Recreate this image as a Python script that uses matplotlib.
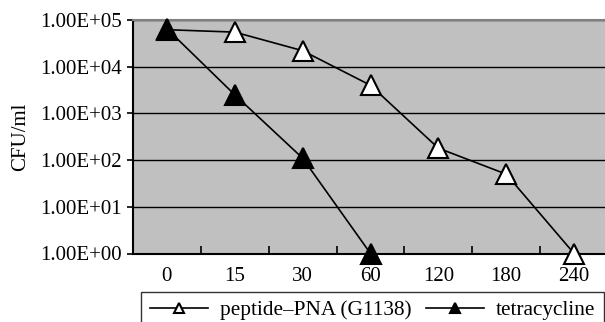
import matplotlib
matplotlib.use("Agg")
import matplotlib.pyplot as plt
import numpy as np

plt.rcParams['font.family'] = ['Liberation Serif', 'DejaVu Serif']
plt.rcParams['mathtext.fontset'] = 'stix'

categories = ["0", "15", "30", "60", "120", "180", "240"]
peptide = [6.2e4, 5.5e4, 2.2e4, 4.0e3, 1.8e2, 5.0e1, 1.0e0]
tetra_cats = ["0", "15", "30", "60"]
tetracycline = [6.5e4, 2.5e3, 1.1e2, 1.0e0]
ytick_vals = [1e0, 1e1, 1e2, 1e3, 1e4, 1e5]
ytick_labels = ["1.00E+00", "1.00E+01", "1.00E+02", "1.00E+03", "1.00E+04", "1.00E+05"]

FS = 15

fig = plt.figure(figsize=(6.05, 3.22), dpi=100)
ax = fig.add_axes([133/605, 1-253.5/322, 475/605, (253.5-20)/322])
ax.set_facecolor('#c0c0c0')

x = np.arange(len(categories))
xt = np.arange(len(tetra_cats))
ax.plot(x, peptide, color='black', lw=1.2, marker='^', ms=15,
        mfc='white', mec='black', mew=1.5, label='peptide–PNA (G1138)', zorder=3, clip_on=False)
ax.plot(xt, tetracycline, color='black', lw=1.2, marker='^', ms=15,
        mfc='black', mec='black', mew=1.5, label='tetracycline', zorder=4, clip_on=False)

ax.set_yscale('log')
ax.set_ylim(1, 1e5)
ax.set_xlim(-0.5, len(categories) - 0.5)
ax.set_yticks(ytick_vals)
ax.set_yticklabels(ytick_labels, fontsize=FS)
ax.yaxis.set_minor_locator(matplotlib.ticker.NullLocator())
ax.grid(axis='y', color='black', lw=1.0)
ax.set_axisbelow(True)

ax.set_xticks(x)
ax.set_xticklabels(categories, fontsize=FS)
ax.set_xticks(np.arange(len(categories) + 1) - 0.5, minor=True)
ax.tick_params(axis='x', which='major', length=0, pad=10)
ax.tick_params(axis='x', which='minor', direction='in', length=6, width=1.2, color='black')
ax.tick_params(axis='y', which='major', direction='out', length=4, width=1.2, pad=4)

ax.spines['top'].set_color('#808080')
ax.spines['top'].set_linewidth(1.5)
ax.spines['right'].set_visible(False)
ax.spines['left'].set_linewidth(1.5)
ax.spines['bottom'].set_linewidth(1.5)

ax.set_ylabel('CFU/ml', fontsize=FS, labelpad=7)

leg = fig.legend(loc='upper left', bbox_to_anchor=(141/605, 1-292/322), ncol=2,
                 fontsize=15.3, frameon=True, fancybox=False, edgecolor='black',
                 handlelength=2.75, markerscale=0.5, columnspacing=0.7,
                 borderpad=0.4, handletextpad=0.55, borderaxespad=0)
leg.get_frame().set_linewidth(1.0)

fig.savefig('out.png', dpi=100)
